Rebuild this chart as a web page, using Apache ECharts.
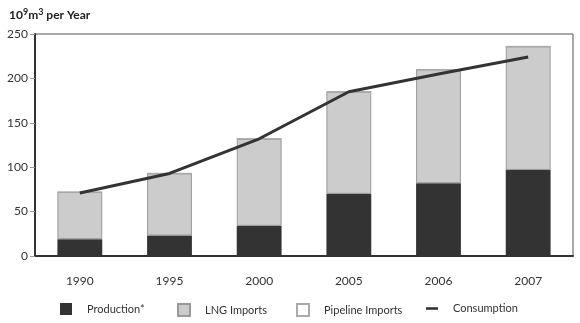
<!DOCTYPE html>
<html>
<head>
<meta charset="utf-8">
<script src="https://cdn.jsdelivr.net/npm/echarts@6/dist/echarts.min.js"></script>
<style>
  html, body { margin: 0; padding: 0; background: #fff; }
  #chart { width: 580px; height: 323px; }
</style>
</head>
<body>
<div id="chart"></div>
<script>
const years = ['1990', '1995', '2000', '2005', '2006', '2007'];
const production = [19, 23, 34, 70, 82, 97];
const lngImports = [53, 70, 98, 115, 128, 139];
const pipelineImports = [0, 0, 0, 0, 0, 0];
const consumption = [71, 93, 132, 185, 205, 224];
const yTicks = [0, 50, 100, 150, 200, 250];

const font = 'Lato, "Open Sans", sans-serif';

// one legend per entry so each can sit where the original has it
function legendItem(name, left, icon) {
  return {
    left: left,
    top: 303,
    padding: 0,
    itemWidth: 12,
    itemHeight: 12,
    textStyle: { fontSize: 11, color: '#333', padding: [0, 0, 0, 10] },
    data: [{ name: name, icon: icon }]
  };
}

const chart = echarts.init(document.getElementById('chart'));
chart.setOption({
  animation: false,
  textStyle: { fontFamily: font },
  title: {
    left: 4,
    top: 3,
    text: '{b|10}{s|9}{b|m}{s|3}{b| per Year}',
    textStyle: {
      rich: {
        b: { fontSize: 12, fontWeight: 'bold', color: '#222', fontFamily: font },
        s: { fontSize: 9, fontWeight: 'bold', color: '#222', verticalAlign: 'top', padding: [0, 0, 6, 0], fontFamily: font }
      }
    }
  },
  grid: {
    left: 35,
    right: 7,
    top: 34,
    bottom: 67,
    show: true,
    borderColor: '#555',
    borderWidth: 1
  },
  legend: [
    legendItem('Production*', 60, 'rect'),
    legendItem('LNG Imports', 177, 'rect'),
    legendItem('Pipeline Imports', 296, 'rect'),
    legendItem('Consumption', 426, 'path://M0,0L14,0L14,3L0,3Z')
  ],
  xAxis: {
    type: 'category',
    data: years,
    axisLine: { lineStyle: { color: '#333', width: 2 } },
    axisTick: { alignWithLabel: true, length: 8, lineStyle: { color: '#999', width: 1.5 } },
    axisLabel: { margin: 19, fontSize: 12, color: '#333' }
  },
  yAxis: {
    type: 'value',
    min: 0,
    max: yTicks[yTicks.length - 1],
    interval: 50,
    splitLine: { show: false },
    axisLine: { show: true, lineStyle: { color: '#333', width: 2 } },
    axisTick: { show: true, length: 5, lineStyle: { color: '#999' } },
    axisLabel: { margin: 7, fontSize: 12, color: '#333' }
  },
  series: [
    {
      name: 'Production*',
      type: 'bar',
      stack: 'total',
      barWidth: '50%',
      data: production,
      itemStyle: { color: '#333', borderColor: '#333', borderWidth: 0 }
    },
    {
      name: 'LNG Imports',
      type: 'bar',
      stack: 'total',
      data: lngImports,
      itemStyle: { color: '#cccccc', borderColor: '#999', borderWidth: 1 }
    },
    {
      name: 'Pipeline Imports',
      type: 'bar',
      stack: 'total',
      data: pipelineImports,
      itemStyle: { color: '#fff', borderColor: '#aaa', borderWidth: 1 }
    },
    {
      name: 'Consumption',
      type: 'line',
      data: consumption,
      symbol: 'none',
      lineStyle: { color: '#333', width: 3 },
      itemStyle: { color: '#333' },
      z: 5
    }
  ]
});
</script>
</body>
</html>
